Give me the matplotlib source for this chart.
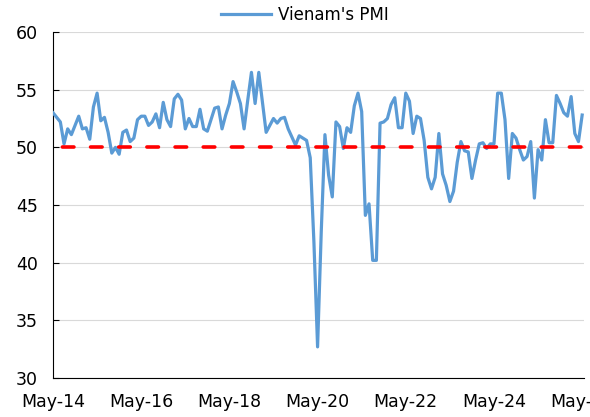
import matplotlib.pyplot as plt

# monthly PMI, starting May-14
pmi = [
    53.0, 52.6, 52.2, 50.3, 51.6, 51.1, 51.9, 52.7, 51.6, 51.7, 50.7, 53.5,
    54.7, 52.3, 52.6, 51.3, 49.5, 50.0, 49.4, 51.3, 51.5, 50.5, 50.8, 52.4,
    52.7, 52.7, 51.9, 52.2, 52.9, 51.7, 53.9, 52.4, 51.8, 54.2, 54.6, 54.1,
    51.6, 52.5, 51.8, 51.8, 53.3, 51.6, 51.4, 52.4, 53.4, 53.5, 51.6, 52.8,
    53.8, 55.7, 54.8, 53.8, 51.6, 54.1, 56.5, 53.8, 56.5, 53.9, 51.3, 51.9,
    52.5, 52.1, 52.5, 52.6, 51.6, 50.9, 50.2, 51.0, 50.8, 50.6, 49.1, 41.8,
    32.7, 42.7, 51.1, 47.6, 45.7, 52.2, 51.8, 49.9, 51.7, 51.3, 53.6, 54.7,
    53.1, 44.1, 45.1, 40.2, 40.2, 52.1, 52.2, 52.5, 53.7, 54.3, 51.7, 51.7,
    54.7, 54.0, 51.2, 52.7, 52.5, 50.6, 47.4, 46.4, 47.4, 51.2, 47.7, 46.7,
    45.3, 46.2, 48.7, 50.5, 49.7, 49.6, 47.3, 48.9, 50.3, 50.4, 49.9, 50.3,
    50.3, 54.7, 54.7, 52.4, 47.3, 51.2, 50.8, 49.8, 48.9, 49.2, 50.5, 45.6,
    49.8, 48.9, 52.4, 50.4, 50.4, 54.5, 53.8, 53.0, 52.7, 54.4, 51.2, 50.5,
    52.8,
]
threshold = 50
tick_labels = ["May-14", "May-16", "May-18", "May-20", "May-22", "May-24", "May-26"]
yticks = [30, 35, 40, 45, 50, 55, 60]

x = list(range(len(pmi)))

fig = plt.figure(figsize=(5.9, 4.17), dpi=100)
ax = fig.add_axes([53 / 590, 39 / 417, 531 / 590, 346 / 417])

line, = ax.plot(x, pmi, color='#5B9BD5', lw=2.3, solid_joinstyle='round',
                label="Vienam's PMI", zorder=3)
ax.plot(x, [threshold] * len(x), color='#FF0000', lw=2.6,
        linestyle=(5.2, (3.2, 4.6)), dash_capstyle='round', zorder=4)

ax.set_xlim(0, 144.5)
ax.set_ylim(30, 60)
ax.set_yticks(yticks)
ax.set_xticks(x[::24])
ax.set_xticklabels(tick_labels)

ax.yaxis.grid(True, color='#d9d9d9', lw=0.8)
ax.set_axisbelow(True)
for s in ['top', 'right']:
    ax.spines[s].set_visible(False)
for s in ['left', 'bottom']:
    ax.spines[s].set_linewidth(0.8)
    ax.spines[s].set_color('black')

ax.tick_params(axis='y', direction='in', length=4, width=0.8, pad=11, labelsize=12.5)
ax.tick_params(axis='x', length=0, pad=11, labelsize=12.5)

fig.legend(handles=[line], loc='center', bbox_to_anchor=(305 / 590, 1 - 15 / 417),
           frameon=False, handlelength=3.0, handletextpad=0.45, fontsize=12)

fig.savefig('out.png', dpi=100)
